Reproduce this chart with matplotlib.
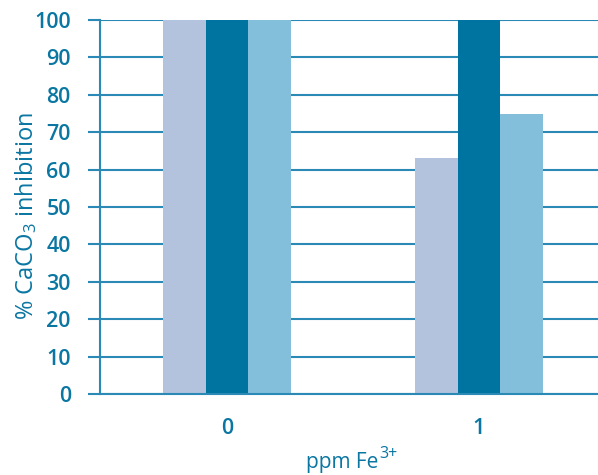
import matplotlib.pyplot as plt
import numpy as np

# data
categories = ['0', '1']
series_a = [100, 63]    # light lavender
series_b = [100, 100]   # dark teal
series_c = [100, 75]    # light blue

teal = '#0a76a2'
colors = ['#b3c3dd', '#0074a0', '#83bfdb']

plt.rcParams['font.family'] = ['Open Sans', 'DejaVu Sans']
plt.rcParams['mathtext.fontset'] = 'custom'
plt.rcParams['mathtext.rm'] = 'Open Sans'
plt.rcParams['mathtext.it'] = 'Open Sans'
plt.rcParams['mathtext.bf'] = 'Open Sans:bold'

fig = plt.figure(figsize=(5.98, 4.75), dpi=100)
ax = fig.add_axes([100 / 598, 1 - 394 / 475, 498 / 598, 374 / 475])

x = np.arange(len(categories))
w = 0.169
for i, (vals, c) in enumerate(zip([series_a, series_b, series_c], colors)):
    ax.bar(x + (i - 1) * w, vals, width=w, color=c, zorder=2)

ax.set_xlim(-0.504, 1.472)
ax.set_ylim(0, 100)
ax.set_yticks(range(0, 101, 10))
ax.set_xticks(x)
ax.set_xticklabels(categories)

ax.yaxis.grid(True, color='#2a8ab5', linewidth=1.5, zorder=1)
ax.set_axisbelow(True)

for s in ['top', 'right']:
    ax.spines[s].set_visible(False)
for s in ['left', 'bottom']:
    ax.spines[s].set_color('#2a8ab5')
    ax.spines[s].set_linewidth(1.5)

ax.tick_params(axis='y', direction='out', length=9, width=1.5, color='#2a8ab5',
               labelcolor=teal, labelsize=15.5, pad=12)
ax.tick_params(axis='x', length=0, labelcolor=teal, labelsize=15.5, pad=17)
for lbl in ax.get_yticklabels() + ax.get_xticklabels():
    lbl.set_fontweight('semibold')

ax.set_ylabel('% CaCO$_3$ inhibition', color=teal, fontsize=17, va='center')
ax.yaxis.set_label_coords(-0.149, 0.476)

# x label with a hand-placed superscript, larger than mathtext's
ax.set_xlabel('ppm Fe', color=teal, fontsize=15, va='center')
ax.xaxis.set_label_coords(0.487, -0.183)
ax.annotate('3+', xy=(1, 1), xycoords=ax.xaxis.label, xytext=(0.5, 4),
            textcoords='offset points', ha='left', va='top',
            color=teal, fontsize=11.5)

plt.savefig('out.png', dpi=100)
